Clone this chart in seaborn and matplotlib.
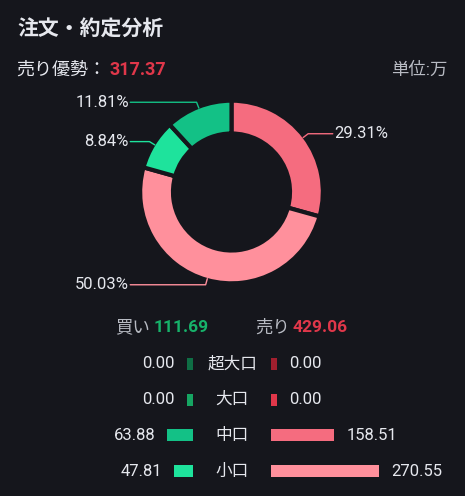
import numpy as np
import pandas as pd
import matplotlib
matplotlib.use('Agg')
import matplotlib.pyplot as plt
import seaborn as sns

# データ (単位:万)
categories = ['超大口', '大口', '中口', '小口']
buy_values = [0.00, 0.00, 63.88, 47.81]
sell_values = [0.00, 0.00, 158.51, 270.55]

buy_colors = ['#0f6e45', '#16a562', '#13c186', '#1ee39c']
sell_colors = ['#a11f2e', '#e0374a', '#f56c7f', '#ff909c']

bg = '#15161c'
txt = '#e6e8ee'
gray = '#b8bbc3'
green_txt = '#17b26a'
red_txt = '#e0374a'

sns.set_theme(style='dark')
plt.rcParams['font.family'] = ['Roboto', 'Noto Sans CJK JP', 'DejaVu Sans']

W, H = 465, 496
fig = plt.figure(figsize=(W / 100, H / 100), dpi=100, facecolor=bg)


def fx(px):
    return px / W


def fy(py):
    return 1 - py / H


buy_total = sum(buy_values)
sell_total = sum(sell_values)
total = buy_total + sell_total

# ヘッダー
fig.text(fx(17), fy(30), '注文・約定分析', fontsize=15, fontweight='bold', color=txt,
         ha='left', va='center')
fig.text(fx(16), fy(70), '売り優勢：', fontsize=13, color=txt, ha='left', va='center')
fig.text(fx(109), fy(70), f'{sell_total - buy_total:.2f}', fontsize=13, fontweight='bold',
         color=red_txt, ha='left', va='center')
fig.text(fx(447), fy(70), '単位:万', fontsize=12.5, color=gray, ha='right', va='center')

# ドーナツチャート
cx, cy, R = 231.5, 192, 90
ax_pie = fig.add_axes([0, 0, 1, 1])
ax_pie.set_facecolor('none')
pie_vals = [sell_values[2], sell_values[3], buy_values[3], buy_values[2]]
pie_cols = [sell_colors[2], sell_colors[3], buy_colors[3], buy_colors[2]]
wedges, _ = ax_pie.pie(pie_vals, colors=pie_cols, startangle=90, counterclock=False,
                       radius=1.015, wedgeprops=dict(width=0.365, edgecolor=bg, linewidth=3))
ax_pie.set_aspect('auto')
ax_pie.set_xlim(-cx / R, (W - cx) / R)
ax_pie.set_ylim(-(H - cy) / R, cy / R)
ax_pie.axis('off')

# ラベルと引き出し線
for w, v, c in zip(wedges, pie_vals, pie_cols):
    ang = np.deg2rad((w.theta1 + w.theta2) / 2)
    x0, y0 = np.cos(ang), np.sin(ang)
    x1, y1 = 1.07 * x0, 1.07 * y0
    side = 1 if x0 > 0 else -1
    x2 = side * 1.125
    ax_pie.plot([x0, x1, x2], [y0, y1, y1], color=c, lw=1)
    ax_pie.text(side * 1.14, y1, f'{v / total * 100:.2f}%', fontsize=12, color=txt,
                ha='left' if side > 0 else 'right', va='center')

# 買い / 売り 合計
fig.text(fx(115), fy(327), '買い', fontsize=12.5, color=gray, ha='left', va='center')
fig.text(fx(154), fy(327), f'{buy_total:.2f}', fontsize=12.5, fontweight='bold',
         color=green_txt, ha='left', va='center')
fig.text(fx(255), fy(327), '売り', fontsize=12.5, color=gray, ha='left', va='center')
fig.text(fx(293), fy(327), f'{sell_total:.2f}', fontsize=12.5, fontweight='bold',
         color=red_txt, ha='left', va='center')

# 横棒グラフ
min_bar = 15  # 0.00 でも小さく表示
df = pd.DataFrame({'cat': categories, 'buy': buy_values, 'sell': sell_values})
df['buy_bar'] = np.maximum(df['buy'], min_bar)
df['sell_bar'] = np.maximum(df['sell'], min_bar)

top_px, bot_px = 346, 489
ax_buy = fig.add_axes([fx(93), fy(bot_px), 100 / W, (bot_px - top_px) / H])
ax_sell = fig.add_axes([fx(271), fy(bot_px), 150 / W, (bot_px - top_px) / H])

sns.barplot(data=df, x='buy_bar', y='cat', hue='cat', palette=buy_colors, orient='h',
            width=0.34, saturation=1, legend=False, linewidth=0, edgecolor='none', ax=ax_buy)
sns.barplot(data=df, x='sell_bar', y='cat', hue='cat', palette=sell_colors, orient='h',
            width=0.34, saturation=1, legend=False, linewidth=0, edgecolor='none', ax=ax_sell)

ax_buy.set_xlim(250, 0)
ax_sell.set_xlim(0, 375)
for ax in (ax_buy, ax_sell):
    ax.set_ylim(3.5, -0.5)
    ax.set_facecolor('none')
    ax.axis('off')

for i, row in df.iterrows():
    ax_buy.annotate(f"{row['buy']:.2f}", xy=(row['buy_bar'], i), xytext=(-12, 0),
                    textcoords='offset pixels', ha='right', va='center', fontsize=12, color=txt)
    ax_sell.annotate(f"{row['sell']:.2f}", xy=(row['sell_bar'], i), xytext=(12, 0),
                     textcoords='offset pixels', ha='left', va='center', fontsize=12, color=txt)
    ax_sell.annotate(row['cat'], xy=(0, i), xytext=(-39, 0), textcoords='offset pixels',
                     ha='center', va='center', fontsize=12, color=txt)

fig.savefig('out.png', dpi=100, facecolor=bg)
